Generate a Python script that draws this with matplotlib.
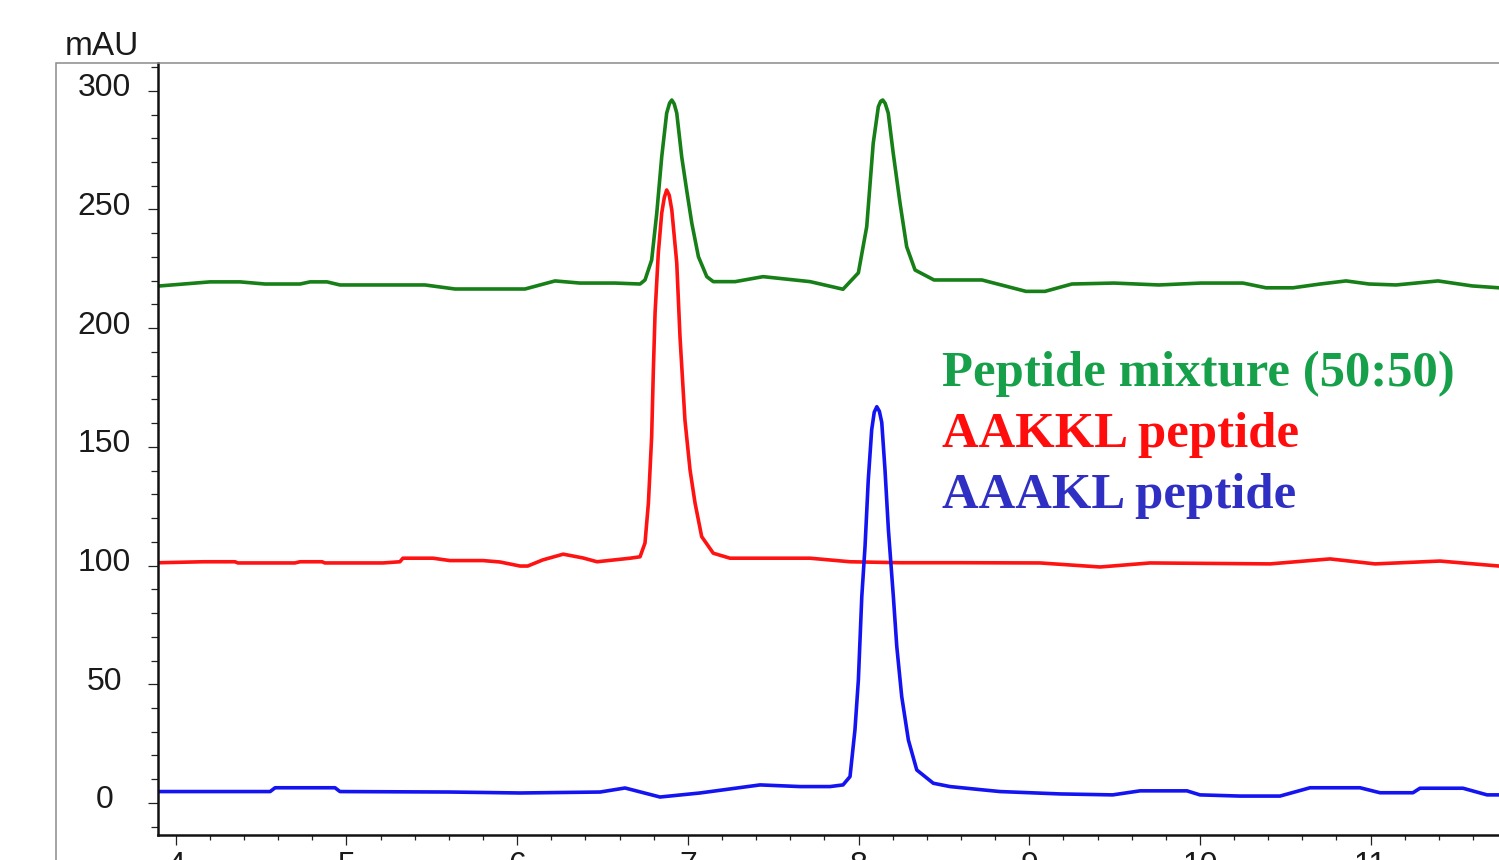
"""HPLC chromatogram overlay: AAKKL, AAAKL and their 50:50 mixture."""

from __future__ import annotations

import matplotlib

matplotlib.use("Agg")

import matplotlib.pyplot as plt
from matplotlib.patches import Rectangle
from matplotlib.ticker import MultipleLocator
from matplotlib.transforms import ScaledTranslation

# retention time (min) / absorbance (mAU) for each trace
MIX_TIME = [3.908, 4.201, 4.377, 4.523, 4.728, 4.787, 4.886, 4.962, 5.460, 5.636,
            6.046, 6.222, 6.368, 6.573, 6.720, 6.749, 6.788, 6.818, 6.847, 6.876,
            6.893, 6.906, 6.920, 6.935, 6.964, 6.993, 7.023, 7.062, 7.111, 7.149,
            7.277, 7.441, 7.716, 7.909, 7.999, 8.048, 8.086, 8.116, 8.130, 8.142,
            8.156, 8.174, 8.203, 8.243, 8.282, 8.331, 8.442, 8.723, 8.981, 9.092,
            9.250, 9.496, 9.760, 10.006, 10.252, 10.387, 10.545, 10.704, 10.856, 10.991,
            11.149, 11.395, 11.594, 11.752]
MIX_MAU = [217.8, 219.5, 219.5, 218.6, 218.6, 219.5, 219.5, 218.2, 218.2, 216.5,
           216.5, 219.9, 219.0, 219.0, 218.6, 220.3, 228.7, 248.5, 272.2, 290.6,
           294.8, 296.1, 294.5, 290.6, 272.2, 258.2, 244.3, 230.1, 221.7, 219.6,
           219.6, 221.7, 219.6, 216.4, 223.3, 242.8, 277.9, 293.3, 295.6, 296.1,
           294.7, 290.6, 273.8, 252.7, 234.3, 224.5, 220.3, 220.3, 215.5, 215.5,
           218.6, 219.0, 218.2, 219.0, 219.0, 217.0, 217.0, 218.6, 219.9, 218.6,
           218.2, 219.9, 217.8, 217.0]

AAKKL_TIME = [3.908, 4.160, 4.347, 4.364, 4.698, 4.728, 4.857, 4.874, 5.214, 5.313,
              5.331, 5.507, 5.606, 5.800, 5.900, 6.017, 6.062, 6.151, 6.270, 6.386,
              6.468, 6.662, 6.720, 6.749, 6.769, 6.788, 6.798, 6.808, 6.827, 6.847,
              6.862, 6.876, 6.891, 6.906, 6.935, 6.954, 6.983, 7.013, 7.042, 7.081,
              7.149, 7.247, 7.716, 7.950, 8.243, 8.595, 9.063, 9.415, 9.708, 10.411,
              10.762, 11.026, 11.406, 11.752]
AAKKL_MAU = [101.2, 101.6, 101.6, 101.1, 101.1, 101.6, 101.6, 101.1, 101.1, 101.6,
             103.1, 103.1, 102.1, 102.1, 101.5, 99.8, 99.8, 102.4, 104.8, 103.2,
             101.6, 103.1, 103.7, 109.5, 126.4, 154.3, 182.4, 206.4, 231.7, 248.5,
             255.0, 258.2, 256.0, 249.8, 227.5, 196.4, 161.3, 140.2, 126.4, 112.2,
             105.2, 103.1, 103.1, 101.6, 101.2, 101.2, 101.1, 99.4, 101.1, 100.7,
             102.8, 100.7, 101.9, 99.8]

AAAKL_TIME = [3.908, 4.553, 4.582, 4.933, 4.962, 5.607, 6.017, 6.486, 6.632, 6.837,
              7.071, 7.423, 7.658, 7.833, 7.909, 7.950, 7.979, 7.999, 8.019, 8.038,
              8.057, 8.077, 8.092, 8.107, 8.122, 8.136, 8.155, 8.175, 8.204, 8.224,
              8.253, 8.292, 8.341, 8.438, 8.536, 8.729, 8.829, 9.180, 9.489, 9.649,
              9.924, 10.000, 10.234, 10.469, 10.645, 10.938, 11.055, 11.248, 11.289, 11.541,
              11.682, 11.752]
AAAKL_MAU = [4.8, 4.8, 6.4, 6.4, 4.8, 4.6, 4.2, 4.6, 6.3, 2.5,
             4.2, 7.6, 6.9, 6.9, 7.6, 11.1, 30.8, 51.8, 86.9, 108.0,
             136.1, 157.2, 164.6, 166.9, 165.0, 160.3, 140.3, 115.0, 86.9, 65.9,
             44.8, 26.5, 13.9, 8.3, 6.9, 5.5, 4.8, 3.8, 3.4, 5.1,
             5.1, 3.4, 2.9, 2.9, 6.4, 6.4, 4.3, 4.3, 6.2, 6.2,
             3.4, 3.4]

LABELS = ["Peptide mixture (50:50)", "AAKKL peptide", "AAAKL peptide"]
LINE_COLORS = ["#177f17", "#ff1212", "#1414f2"]
TEXT_COLORS = ["#16a04a", "#ff0d0d", "#2f2fc4"]

W, H = 1499, 860


def main() -> int:
    fig = plt.figure(figsize=(W / 100, H / 100), dpi=100)

    # grey outer frame, runs off the right and bottom edges
    fig.patches.append(
        Rectangle((56 / W, -0.2), 1.5, 0.2 + (H - 63) / H, transform=fig.transFigure,
                  fill=False, edgecolor="#8a8a8a", linewidth=1.1, zorder=0)
    )

    ax = fig.add_axes([158 / W, (H - 835) / H, 1.0 - 158 / W, (835 - 63) / H])
    ax.set_xlim(3.896, 11.752)
    ax.set_ylim(-13.5, 311.7)

    traces = [(MIX_TIME, MIX_MAU), (AAKKL_TIME, AAKKL_MAU), (AAAKL_TIME, AAAKL_MAU)]
    for (t, v), color in zip(traces, LINE_COLORS):
        ax.plot(t, v, color=color, linewidth=2.6, solid_joinstyle="round", clip_on=False)

    for side in ("top", "right"):
        ax.spines[side].set_visible(False)
    for side in ("left", "bottom"):
        ax.spines[side].set_linewidth(1.8)
        ax.spines[side].set_color("#111111")

    ax.xaxis.set_major_locator(MultipleLocator(1))
    ax.xaxis.set_minor_locator(MultipleLocator(0.2))
    ax.yaxis.set_major_locator(MultipleLocator(50))
    ax.yaxis.set_minor_locator(MultipleLocator(10))
    ax.set_yticks(range(0, 301, 50))
    ax.tick_params(axis="both", which="both", direction="out", color="#222222", width=0.9,
                   labelsize=23, labelcolor="#1a1a1a")
    ax.tick_params(axis="y", which="major", length=7.2, pad=31.5)
    ax.tick_params(axis="y", which="minor", length=5)
    ax.tick_params(axis="x", which="major", length=7.2, pad=4)
    ax.tick_params(axis="x", which="minor", length=3.6)
    shift = ScaledTranslation(0, 6 / 100, fig.dpi_scale_trans)
    for label in ax.get_yticklabels():
        label.set_fontfamily("Liberation Sans")
        label.set_horizontalalignment("center")
        label.set_transform(label.get_transform() + shift)
    for label in ax.get_xticklabels():
        label.set_fontfamily("Liberation Sans")

    fig.text(65 / W, (H - 55) / H, "mAU", fontsize=24, family="Liberation Sans",
             color="#1a1a1a", va="baseline", ha="left")

    for i, (text, color) in enumerate(zip(LABELS, TEXT_COLORS)):
        fig.text(942 / W, (H - 386 - 61 * i) / H, text, fontsize=36.5, family="Liberation Serif",
                 fontweight="bold", color=color, va="baseline", ha="left")

    fig.savefig("out.png", dpi=100)
    plt.close(fig)
    return 0


if __name__ == "__main__":
    raise SystemExit(main())
